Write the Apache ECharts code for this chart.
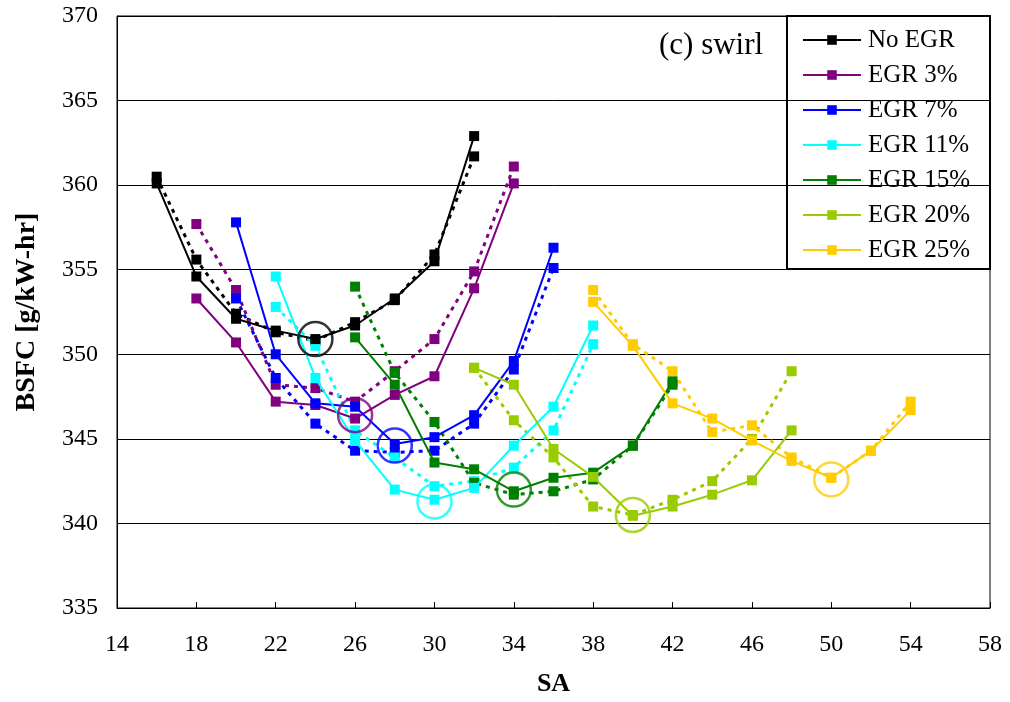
<!DOCTYPE html>
<html>
<head>
<meta charset="utf-8">
<script src="https://cdn.jsdelivr.net/npm/echarts@6/dist/echarts.min.js"></script>
<style>
  html, body { margin: 0; padding: 0; background: #fff; }
  #chart { width: 1010px; height: 702px; }
</style>
</head>
<body>
<div id="chart"></div>
<script>
// spark advance (deg) for each EGR rate
const saNoEgr = [16, 18, 20, 22, 24, 26, 28, 30, 32]
const saEgr3 = [18, 20, 22, 24, 26, 28, 30, 32, 34]
const saEgr7 = [20, 22, 24, 26, 28, 30, 32, 34, 36]
const saEgr11 = [22, 24, 26, 28, 30, 32, 34, 36, 38]
const saEgr15 = [26, 28, 30, 32, 34, 36, 38, 40, 42]
const saEgr20 = [32, 34, 36, 38, 40, 42, 44, 46, 48]
const saEgr25 = [38, 40, 42, 44, 46, 48, 50, 52, 54]

// BSFC, solid = run 1, dotted = run 2
const noEgrSolid = [360.1, 354.6, 352.1, 351.4, 350.9, 351.7, 353.3, 355.5, 362.9]
const noEgrDotted = [360.5, 355.6, 352.4, 351.3, 350.8, 351.9, 353.2, 355.9, 361.7]
const egr3Solid = [353.3, 350.7, 347.2, 347.0, 346.2, 347.6, 348.7, 353.9, 360.1]
const egr3Dotted = [357.7, 353.8, 348.2, 348.0, 347.2, 349.0, 350.9, 354.9, 361.1]
const egr7Solid = [357.8, 350.0, 347.1, 346.9, 344.7, 345.1, 346.4, 349.6, 356.3]
const egr7Dotted = [353.3, 348.6, 345.9, 344.3, 344.2, 344.3, 345.9, 349.1, 355.1]
const egr11Solid = [354.6, 348.6, 344.9, 342.0, 341.4, 342.1, 344.6, 346.9, 351.7]
const egr11Dotted = [352.8, 350.5, 345.5, 343.9, 342.2, 342.5, 343.3, 345.5, 350.6]
const egr15Solid = [351.0, 348.2, 343.6, 343.2, 341.9, 342.7, 343.0, 344.6, 348.4]
const egr15Dotted = [354.0, 348.9, 346.0, 342.4, 341.7, 341.9, 342.6, 344.6, 348.2]
const egr20Solid = [349.2, 348.2, 344.4, 342.75, 340.45, 341.0, 341.7, 342.55, 345.5]
const egr20Dotted = [349.2, 346.1, 343.9, 341.0, 340.5, 341.4, 342.5, 345.0, 349.0]
const egr25Solid = [353.1, 350.5, 347.1, 346.2, 344.9, 343.7, 342.7, 344.3, 346.7]
const egr25Dotted = [353.8, 350.6, 349.0, 345.4, 345.8, 343.9, 342.7, 344.3, 347.2]

// circled optimum points (MBT)
const optSA = [24, 26, 28, 30, 34, 40, 50]
const optBsfc = [350.9, 346.4, 344.6, 341.3, 342.0, 340.5, 342.6]

const seriesNames = ['No EGR', 'EGR 3%', 'EGR 7%', 'EGR 11%', 'EGR 15%', 'EGR 20%', 'EGR 25%']
const COLORS = ['#000000', '#800080', '#0000ff', '#00ffff', '#008000', '#99cc00', '#ffcc00']

const FONT = 'Liberation Serif'

const groups = [
  [saNoEgr, noEgrSolid, noEgrDotted],
  [saEgr3, egr3Solid, egr3Dotted],
  [saEgr7, egr7Solid, egr7Dotted],
  [saEgr11, egr11Solid, egr11Dotted],
  [saEgr15, egr15Solid, egr15Dotted],
  [saEgr20, egr20Solid, egr20Dotted],
  [saEgr25, egr25Solid, egr25Dotted]
]

const zip = (xs, ys) => xs.map((x, i) => [x, ys[i]])

const series = []
groups.forEach((g, idx) => {
  series.push({
    name: seriesNames[idx] + ' (2)',
    type: 'line',
    data: zip(g[0], g[2]),
    symbol: 'rect',
    symbolSize: 10,
    color: COLORS[idx],
    lineStyle: { width: 3, type: [4, 5] },
    z: 2
  })
})
groups.forEach((g, idx) => {
  series.push({
    name: seriesNames[idx],
    type: 'line',
    data: zip(g[0], g[1]),
    symbol: 'rect',
    symbolSize: 10,
    color: COLORS[idx],
    lineStyle: { width: 2 },
    z: 3
  })
})
series.push({
  name: 'optimum',
  type: 'scatter',
  data: optSA.map((x, i) => ({
    value: [x, optBsfc[i]],
    itemStyle: { color: 'rgba(0,0,0,0)', borderColor: COLORS[i], borderWidth: 2.5 }
  })),
  symbol: 'circle',
  symbolSize: 34,
  z: 4
})

const chart = echarts.init(document.getElementById('chart'))
chart.setOption({
  animation: false,
  backgroundColor: '#fff',
  textStyle: { fontFamily: FONT, color: '#000' },
  grid: {
    left: 117,
    top: 16,
    right: 20,
    bottom: 91,
    show: true,
    borderColor: '#000',
    borderWidth: 1
  },
  legend: {
    data: seriesNames,
    orient: 'vertical',
    left: 797,
    top: 22,
    itemWidth: 58,
    itemHeight: 12,
    itemGap: 9,
    textStyle: { fontFamily: FONT, fontSize: 25, color: '#000', lineHeight: 26, padding: [0, 0, 0, 2] }
  },
  xAxis: {
    type: 'value',
    min: 14,
    max: 58,
    interval: 4,
    name: 'SA',
    nameLocation: 'middle',
    nameGap: 63,
    nameTextStyle: { fontFamily: FONT, fontSize: 26, fontWeight: 'bold', color: '#000' },
    axisLine: { lineStyle: { color: '#000', width: 1 } },
    axisTick: { inside: true, length: 6, lineStyle: { color: '#000' } },
    axisLabel: { fontFamily: FONT, fontSize: 24, color: '#000', margin: 25 },
    splitLine: { show: false }
  },
  yAxis: {
    type: 'value',
    min: 335,
    max: 370,
    interval: 5,
    name: 'BSFC [g/kW-hr]',
    nameLocation: 'middle',
    nameGap: 76,
    nameRotate: 90,
    nameTextStyle: { fontFamily: FONT, fontSize: 28, fontWeight: 'bold', color: '#000' },
    axisLine: { show: true, lineStyle: { color: '#000', width: 1 } },
    axisTick: { show: true, inside: true, length: 6, lineStyle: { color: '#000' } },
    axisLabel: { fontFamily: FONT, fontSize: 24, color: '#000', margin: 19 },
    splitLine: { show: true, lineStyle: { color: '#000', width: 1 } }
  },
  graphic: [
    {
      type: 'rect',
      shape: { x: 787, y: 16, width: 203, height: 253 },
      style: { fill: 'none', stroke: '#000', lineWidth: 2 },
      z: 10
    },
    {
      type: 'text',
      left: 659,
      top: 30,
      style: { text: '(c) swirl', font: '31px "Liberation Serif"', fill: '#000' },
      z: 10
    }
  ],
  series: series
})
</script>
</body>
</html>
